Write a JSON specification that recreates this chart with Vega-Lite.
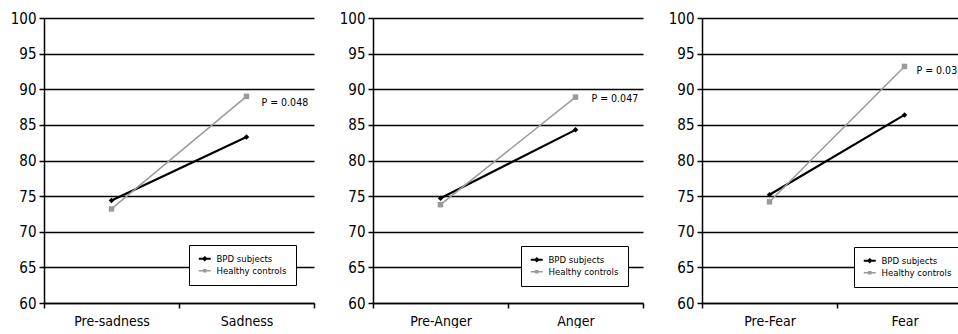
{
  "$schema": "https://vega.github.io/schema/vega-lite/v6.json",
  "background": "white",
  "padding": {"left": 9, "top": 11, "right": 0, "bottom": 0},
  "spacing": 23,
  "datasets": {
    "scores": [
      {"panel": 1, "time": "Pre-sadness", "group": "BPD subjects", "score": 74.4},
      {"panel": 1, "time": "Sadness", "group": "BPD subjects", "score": 83.3},
      {"panel": 1, "time": "Pre-sadness", "group": "Healthy controls", "score": 73.2},
      {"panel": 1, "time": "Sadness", "group": "Healthy controls", "score": 89.0},
      {"panel": 2, "time": "Pre-Anger", "group": "BPD subjects", "score": 74.7},
      {"panel": 2, "time": "Anger", "group": "BPD subjects", "score": 84.3},
      {"panel": 2, "time": "Pre-Anger", "group": "Healthy controls", "score": 73.8},
      {"panel": 2, "time": "Anger", "group": "Healthy controls", "score": 88.9},
      {"panel": 3, "time": "Pre-Fear", "group": "BPD subjects", "score": 75.2},
      {"panel": 3, "time": "Fear", "group": "BPD subjects", "score": 86.4},
      {"panel": 3, "time": "Pre-Fear", "group": "Healthy controls", "score": 74.2},
      {"panel": 3, "time": "Fear", "group": "Healthy controls", "score": 93.2}
    ],
    "pvals": [
      {"panel": 1, "time": "Sadness", "label": "P = 0.048", "score": 88.1},
      {"panel": 2, "time": "Anger", "label": "P = 0.047", "score": 88.6},
      {"panel": 3, "time": "Fear", "label": "P = 0.03", "score": 92.6}
    ]
  },
  "config": {
    "view": {"stroke": null},
    "font": "DejaVu Sans Condensed, Liberation Sans, sans-serif",
    "axis": {
      "labelColor": "black",
      "labelFont": "DejaVu Sans Condensed, Liberation Sans, sans-serif",
      "domainColor": "black",
      "tickColor": "black",
      "domainWidth": 1.5,
      "tickWidth": 1.5,
      "tickSize": 5,
      "title": null,
      "labelOverlap": false
    },
    "axisY": {
      "labelFontSize": 15,
      "labelPadding": 3,
      "grid": true,
      "gridColor": "black",
      "gridWidth": 1.5,
      "gridOpacity": 1,
      "minExtent": 35,
      "maxExtent": 35,
      "values": [60, 65, 70, 75, 80, 85, 90, 95, 100]
    },
    "axisX": {
      "labelFontSize": 14,
      "labelPadding": 6,
      "labelAngle": 0,
      "grid": false,
      "tickBand": "extent"
    },
    "legend": {
      "orient": "none",
      "title": null,
      "strokeColor": "black",
      "fillColor": "white",
      "padding": 9,
      "labelFont": "DejaVu Sans Condensed, Liberation Sans, sans-serif",
      "labelFontSize": 9.5,
      "labelColor": "black",
      "symbolSize": 169,
      "symbolOffset": 2,
      "labelOffset": 7,
      "rowPadding": 0
    }
  },
  "resolve": {"legend": {"color": "independent"}},
  "hconcat": [
    {
      "width": 270, "height": 285,
      "encoding": {
        "x": {"field": "time", "type": "nominal", "sort": ["Pre-sadness", "Sadness"], "scale": {"type": "band", "paddingInner": 0, "paddingOuter": 0}},
        "y": {"field": "score", "type": "quantitative", "scale": {"domain": [60, 100], "nice": false, "zero": false}}
      },
      "layer": [
        {
          "data": {"name": "scores"},
          "transform": [{"filter": "datum.panel == 1"}],
          "mark": {"type": "line"},
          "encoding": {
            "color": {"field": "group", "type": "nominal", "scale": {"domain": ["BPD subjects", "Healthy controls"], "range": ["#000000", "#9a9a9a"]},
              "legend": {"legendX": 145, "legendY": 227,
                "encode": {"symbols": {"update": {
                  "shape": {"signal": "datum.value == 'BPD subjects' ? 'M-0.92,0H0.92M0,-0.22L0.22,0L0,0.22L-0.22,0Z' : 'M-0.92,0H0.92M-0.16,-0.16H0.16V0.16H-0.16Z'"},
                  "fill": {"signal": "datum.value == 'BPD subjects' ? '#000000' : '#9a9a9a'"},
                  "stroke": {"signal": "datum.value == 'BPD subjects' ? '#000000' : '#9a9a9a'"},
                  "strokeWidth": {"signal": "datum.value == 'BPD subjects' ? 2 : 1.5"},
                  "opacity": {"value": 1}
                }}}}},
            "strokeWidth": {"field": "group", "type": "nominal", "scale": {"domain": ["BPD subjects", "Healthy controls"], "range": [2.2, 1.5]}, "legend": null}
          }
        },
        {
          "data": {"name": "scores"},
          "transform": [{"filter": "datum.panel == 1"}],
          "mark": {"type": "point", "filled": true, "opacity": 1, "size": 30},
          "encoding": {
            "color": {"field": "group", "type": "nominal"},
            "shape": {"field": "group", "type": "nominal", "scale": {"domain": ["BPD subjects", "Healthy controls"], "range": ["diamond", "square"]}, "legend": null}
          }
        },
        {
          "data": {"name": "pvals"},
          "transform": [{"filter": "datum.panel == 1"}],
          "mark": {"type": "text", "align": "left", "dx": 15, "fontSize": 10.5, "color": "black"},
          "encoding": {"text": {"field": "label"}}
        }
      ]
    },
    {
      "width": 270, "height": 285,
      "encoding": {
        "x": {"field": "time", "type": "nominal", "sort": ["Pre-Anger", "Anger"], "scale": {"type": "band", "paddingInner": 0, "paddingOuter": 0}},
        "y": {"field": "score", "type": "quantitative", "scale": {"domain": [60, 100], "nice": false, "zero": false}}
      },
      "layer": [
        {
          "data": {"name": "scores"},
          "transform": [{"filter": "datum.panel == 2"}],
          "mark": {"type": "line"},
          "encoding": {
            "color": {"field": "group", "type": "nominal", "scale": {"domain": ["BPD subjects", "Healthy controls"], "range": ["#000000", "#9a9a9a"]},
              "legend": {"legendX": 148, "legendY": 228,
                "encode": {"symbols": {"update": {
                  "shape": {"signal": "datum.value == 'BPD subjects' ? 'M-0.92,0H0.92M0,-0.22L0.22,0L0,0.22L-0.22,0Z' : 'M-0.92,0H0.92M-0.16,-0.16H0.16V0.16H-0.16Z'"},
                  "fill": {"signal": "datum.value == 'BPD subjects' ? '#000000' : '#9a9a9a'"},
                  "stroke": {"signal": "datum.value == 'BPD subjects' ? '#000000' : '#9a9a9a'"},
                  "strokeWidth": {"signal": "datum.value == 'BPD subjects' ? 2 : 1.5"},
                  "opacity": {"value": 1}
                }}}}},
            "strokeWidth": {"field": "group", "type": "nominal", "scale": {"domain": ["BPD subjects", "Healthy controls"], "range": [2.2, 1.5]}, "legend": null}
          }
        },
        {
          "data": {"name": "scores"},
          "transform": [{"filter": "datum.panel == 2"}],
          "mark": {"type": "point", "filled": true, "opacity": 1, "size": 30},
          "encoding": {
            "color": {"field": "group", "type": "nominal"},
            "shape": {"field": "group", "type": "nominal", "scale": {"domain": ["BPD subjects", "Healthy controls"], "range": ["diamond", "square"]}, "legend": null}
          }
        },
        {
          "data": {"name": "pvals"},
          "transform": [{"filter": "datum.panel == 2"}],
          "mark": {"type": "text", "align": "left", "dx": 16, "fontSize": 10.5, "color": "black"},
          "encoding": {"text": {"field": "label"}}
        }
      ]
    },
    {
      "width": 270, "height": 285,
      "encoding": {
        "x": {"field": "time", "type": "nominal", "sort": ["Pre-Fear", "Fear"], "scale": {"type": "band", "paddingInner": 0, "paddingOuter": 0}},
        "y": {"field": "score", "type": "quantitative", "scale": {"domain": [60, 100], "nice": false, "zero": false}}
      },
      "layer": [
        {
          "data": {"name": "scores"},
          "transform": [{"filter": "datum.panel == 3"}],
          "mark": {"type": "line"},
          "encoding": {
            "color": {"field": "group", "type": "nominal", "scale": {"domain": ["BPD subjects", "Healthy controls"], "range": ["#000000", "#9a9a9a"]},
              "legend": {"legendX": 152, "legendY": 229,
                "encode": {"symbols": {"update": {
                  "shape": {"signal": "datum.value == 'BPD subjects' ? 'M-0.92,0H0.92M0,-0.22L0.22,0L0,0.22L-0.22,0Z' : 'M-0.92,0H0.92M-0.16,-0.16H0.16V0.16H-0.16Z'"},
                  "fill": {"signal": "datum.value == 'BPD subjects' ? '#000000' : '#9a9a9a'"},
                  "stroke": {"signal": "datum.value == 'BPD subjects' ? '#000000' : '#9a9a9a'"},
                  "strokeWidth": {"signal": "datum.value == 'BPD subjects' ? 2 : 1.5"},
                  "opacity": {"value": 1}
                }}}}},
            "strokeWidth": {"field": "group", "type": "nominal", "scale": {"domain": ["BPD subjects", "Healthy controls"], "range": [2.2, 1.5]}, "legend": null}
          }
        },
        {
          "data": {"name": "scores"},
          "transform": [{"filter": "datum.panel == 3"}],
          "mark": {"type": "point", "filled": true, "opacity": 1, "size": 30},
          "encoding": {
            "color": {"field": "group", "type": "nominal"},
            "shape": {"field": "group", "type": "nominal", "scale": {"domain": ["BPD subjects", "Healthy controls"], "range": ["diamond", "square"]}, "legend": null}
          }
        },
        {
          "data": {"name": "pvals"},
          "transform": [{"filter": "datum.panel == 3"}],
          "mark": {"type": "text", "align": "left", "dx": 12, "fontSize": 10.5, "color": "black"},
          "encoding": {"text": {"field": "label"}}
        }
      ]
    }
  ]
}
